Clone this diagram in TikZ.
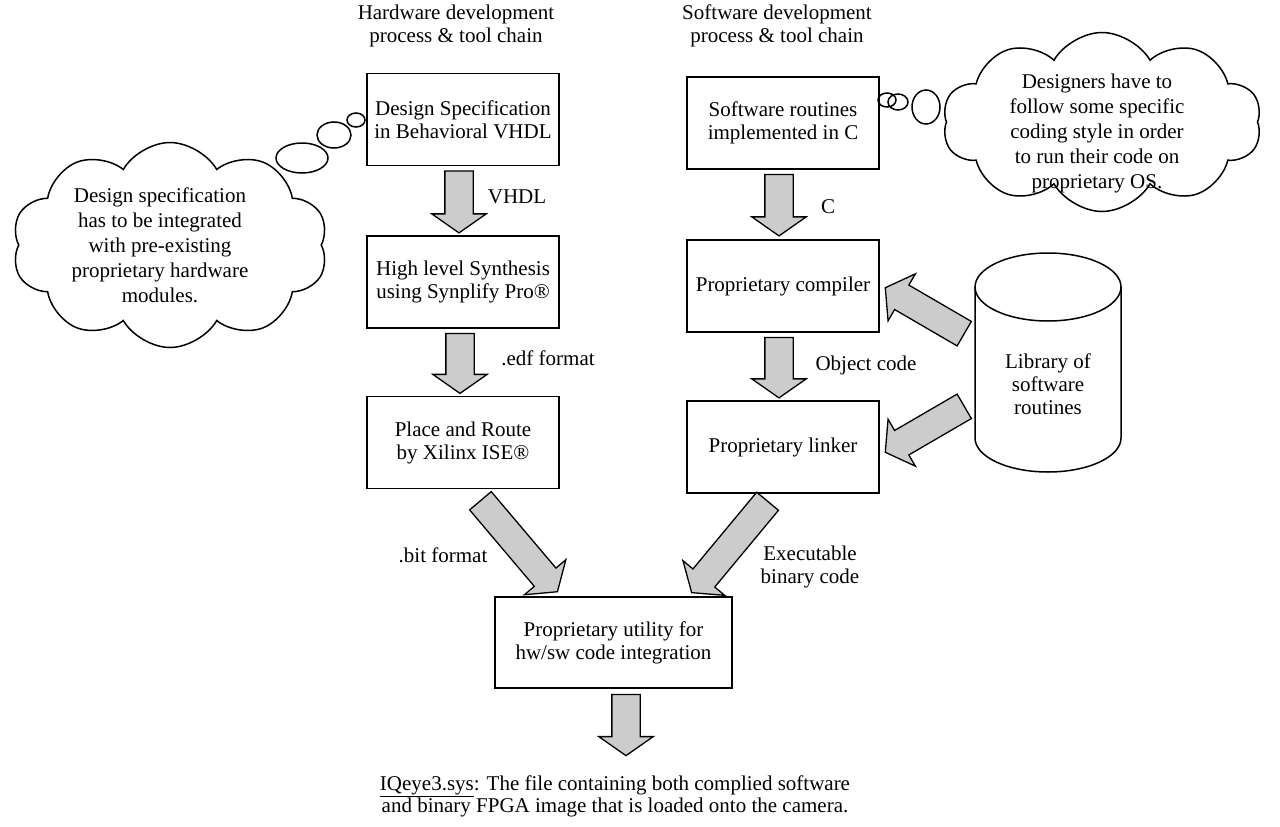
\documentclass[tikz,border=0pt]{standalone}
\usepackage{fontspec}
\setmainfont{Liberation Serif}
\usetikzlibrary{shapes.arrows,shapes.symbols,calc}

% fat grey arrow from one named point to another
\newcommand{\fatarrow}[2]{%
  \path let \p1=(#1), \p2=(#2),
    \n1={atan2(\y2-\y1,\x2-\x1)}, \n2={veclen(\x2-\x1,\y2-\y1)} in
    node[fat, minimum height=\n2, rotate=\n1, anchor=tail] at (\p1) {};}

\begin{document}
\begin{tikzpicture}[x=1pt, y=-1pt,
  every node/.style={font=\fontsize{21}{23}\selectfont},
  stage/.style={draw, line width=1.5, minimum width=192, minimum height=92, align=center, inner sep=0},
  fat/.style={single arrow, draw, line width=1.3, fill=gray!40, inner xsep=0, inner ysep=13.5,
    single arrow head extend=13, single arrow tip angle=110},
  puff/.style={cloud, cloud puffs=10, cloud puff arc=120, cloud ignores aspect, draw, line width=1.5},
  note/.style={align=center, font=\fontsize{21}{25}\selectfont}]
  \useasboundingbox (0,0) rectangle (1280,827);

  % Column headers
  \node[align=center] (hwhead) at (456,26) {Hardware development\\process \& tool chain};
  \node[align=center] (swhead) at (777,26) {Software development\\process \& tool chain};

  % Hardware chain
  \node[stage] (hw1) at (463,119.5) {Design Specification\\in Behavioral VHDL};
  \node[stage] (hw2) at (463,282) {High level Synthesis\\using Synplify Pro®};
  \node[stage] (hw3) at (463,442.5) {Place and Route\\by Xilinx ISE®};

  % Software chain
  \node[stage] (sw1) at (783,123) {Software routines\\implemented in C};
  \node[stage] (sw2) at (783,286) {Proprietary compiler};
  \node[stage] (sw3) at (783,447) {Proprietary linker};

  % Integration step
  \node[stage, minimum width=237, minimum height=91] (merge) at (613.5,642.5) {Proprietary utility for\\hw/sw code integration};

  % Library (cylinder)
  \node[minimum width=146, minimum height=219, inner sep=0] (lib) at (1048,362.5) {};
  \draw[line width=1.5] (1048,287) ellipse [x radius=73, y radius=34];
  \draw[line width=1.5] (975,287) -- (975,438) arc[start angle=180, end angle=0, x radius=73, y radius=34] -- (1121,287);
  \node[align=center] (libtext) at (1048,384) {Library of\\software\\routines};

  % Thought clouds
  \node[puff, minimum width=316, minimum height=205] (hwcloud) at (170,245) {};
  \node[note] (hwnote) at (160,245) {Design specification\\has to be integrated\\with pre-existing\\proprietary hardware\\modules.};
  \draw[line width=1.5] (302,158) ellipse [x radius=26, y radius=15]
    (334,135) ellipse [x radius=17, y radius=13]
    (356,120) ellipse [x radius=9, y radius=7];

  \node[puff, minimum width=319, minimum height=179] (swcloud) at (1102,122) {};
  \node[note] (swnote) at (1097,133) {Designers have to\\follow some specific\\coding style in order\\to run their code on\\proprietary OS.};
  \draw[line width=1.5] (887,100) ellipse [x radius=9, y radius=7]
    (898,102) ellipse [x radius=10, y radius=8]
    (926,107) ellipse [x radius=14, y radius=17];

  % Arrow end points
  \coordinate (h1a) at ($(hw1.south)+(-4,4)$);
  \coordinate (h1b) at ($(hw2.north)+(-4,-3)$);
  \coordinate (h2a) at ($(hw2.south)+(-3,4)$);
  \coordinate (h2b) at ($(hw3.north)+(-3,-3)$);
  \coordinate (s1a) at ($(sw1.south)+(-4,4)$);
  \coordinate (s1b) at ($(sw2.north)+(-4,-4)$);
  \coordinate (s2a) at ($(sw2.south)+(-4,4)$);
  \coordinate (s2b) at ($(sw3.north)+(-4,-3)$);
  \coordinate (h3a) at ($(hw3.south)+(17,11)$);
  \coordinate (h3b) at ($(merge.north)+(-56.5,-5)$);
  \coordinate (s3a) at ($(sw3.south)+(-15,7)$);
  \coordinate (s3b) at ($(merge.north)+(78.5,-4)$);
  \coordinate (l1a) at ($(lib.west)+(-10,-28.5)$);
  \coordinate (l1b) at ($(sw2.east)+(6,2)$);
  \coordinate (l2a) at ($(lib.west)+(-10,43.5)$);
  \coordinate (l2b) at ($(sw3.east)+(6,5)$);
  \coordinate (ma) at ($(merge.south)+(12.5,5)$);
  \coordinate (mb) at (626,755);

  % Block arrows
  \fatarrow{h1a}{h1b}
  \fatarrow{h2a}{h2b}
  \fatarrow{s1a}{s1b}
  \fatarrow{s2a}{s2b}
  \fatarrow{h3a}{h3b}
  \fatarrow{s3a}{s3b}
  \fatarrow{l1a}{l1b}
  \fatarrow{l2a}{l2b}
  \fatarrow{ma}{mb}

  % Arrow labels
  \node (vhdl) at (517,197) {VHDL};
  \node (edf) at (548,358) {.edf format};
  \node (clang) at (828,207) {C};
  \node (obj) at (866,365) {Object code};
  \node (bit) at (443,555) {.bit format};
  \node[align=center] (exe) at (810,567) {Executable\\binary code};

  % Result
  \node[align=center, font=\fontsize{21}{22}\selectfont] (result) at (615,796)
    {\underline{IQeye3.sys}: The file containing both complied software\\and binary FPGA image that is loaded onto the camera.};
\end{tikzpicture}
\end{document}
